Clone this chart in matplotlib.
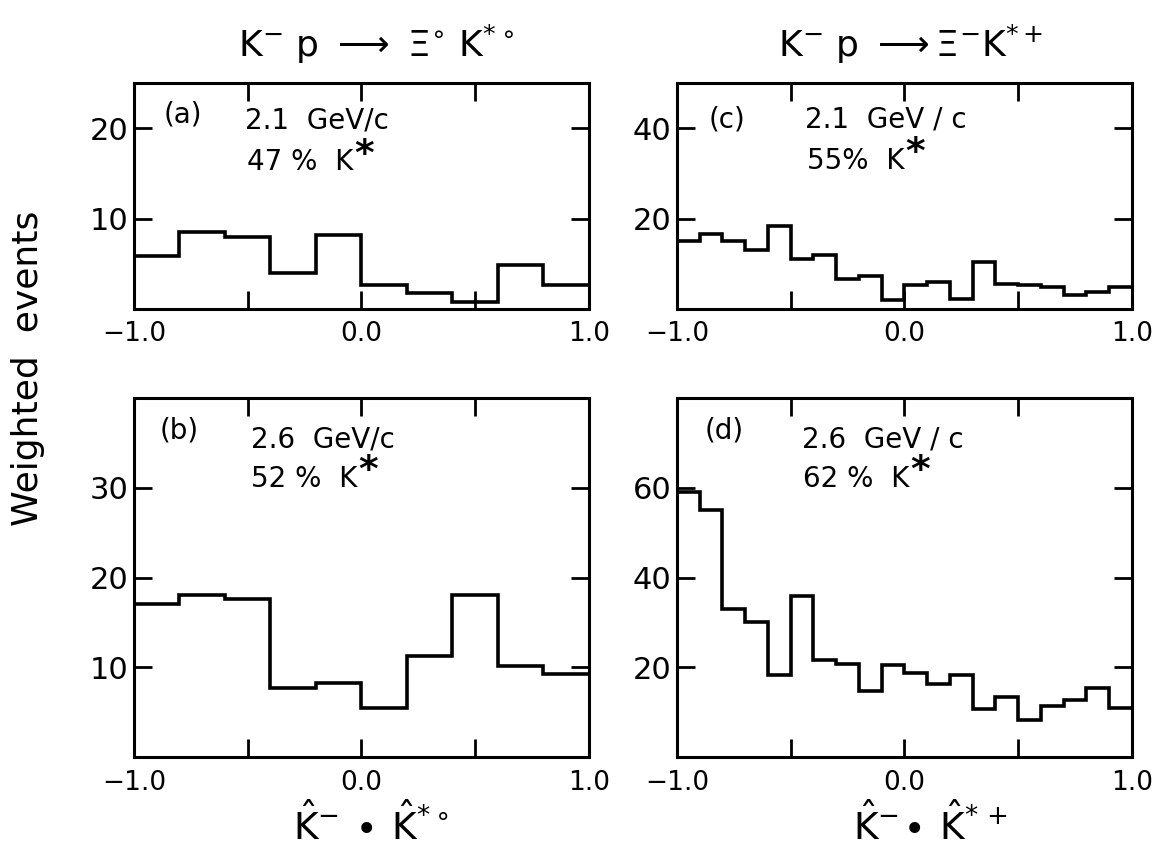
import matplotlib
matplotlib.use('Agg')
import matplotlib.pyplot as plt
import numpy as np

plt.rcParams['font.family'] = ['DejaVu Sans']
plt.rcParams['mathtext.fontset'] = 'dejavusans'

# weighted events per bin
a_vals = [5.9, 8.5, 8.0, 4.0, 8.2, 2.7, 1.8, 0.8, 4.9, 2.7]
b_vals = [17.0, 18.0, 17.6, 7.7, 8.3, 5.5, 11.3, 18.0, 10.1, 9.2]
c_vals = [15.0, 16.5, 15.1, 13.0, 18.3, 11.0, 11.9, 6.6, 7.3, 2.0,
          5.3, 6.0, 2.2, 10.3, 5.6, 5.3, 4.8, 3.0, 3.8, 4.8]
d_vals = [59.0, 55.0, 33.0, 30.1, 18.2, 35.9, 21.6, 20.7, 14.8, 20.4,
          18.7, 16.2, 18.3, 10.7, 13.3, 8.3, 11.3, 12.7, 15.3, 10.9]

xticks = [-1.0, -0.5, 0.0, 0.5, 1.0]
xticklabels = ['\u22121.0', '', '0.0', '', '1.0']

panels = [
    # letter, values, ylim, yticks, momentum, fraction, rect
    ('(a)', a_vals, 25, [10, 20], '2.1  GeV/c', '47 %  K', [0.1155, 0.6386, 0.3922, 0.2643]),
    ('(b)', b_vals, 40, [10, 20, 30], '2.6  GeV/c', '52 %  K', [0.1155, 0.1146, 0.3922, 0.4199]),
    ('(c)', c_vals, 50, [20, 40], '2.1  GeV / c', '55%  K', [0.5836, 0.6386, 0.3922, 0.2643]),
    ('(d)', d_vals, 80, [20, 40, 60], '2.6  GeV / c', '62 %  K', [0.5836, 0.1146, 0.3922, 0.4199]),
]
text_pos = {
    '(a)': (0.066, 0.859, 0.244, 0.834, 0.248, 0.649),
    '(b)': (0.056, 0.91, 0.258, 0.885, 0.258, 0.775),
    '(c)': (0.069, 0.84, 0.282, 0.84, 0.286, 0.654),
    '(d)': (0.061, 0.91, 0.275, 0.885, 0.277, 0.775),
}

fig = plt.figure(figsize=(11.6, 8.55), dpi=100)

for letter, vals, ytop, yticks, mom, frac, rect in panels:
    ax = fig.add_axes(rect)
    edges = np.linspace(-1, 1, len(vals) + 1)
    ax.stairs(vals, edges, baseline=None, color='black', linewidth=2.6)
    ax.set_xlim(-1, 1)
    ax.set_ylim(0, ytop)
    ax.set_xticks(xticks)
    ax.set_xticklabels(xticklabels)
    ax.set_yticks(yticks)
    ax.tick_params(direction='in', top=True, right=True, length=13, width=2)
    ax.tick_params(axis='x', labelsize=19, pad=9)
    ax.tick_params(axis='y', labelsize=22, pad=4)
    for s in ax.spines.values():
        s.set_linewidth(2.2)
    lx, ly, mx, my, fx, fy = text_pos[letter]
    ax.text(lx, ly, letter, transform=ax.transAxes, fontsize=20, va='center')
    ax.text(mx, my, mom, transform=ax.transAxes, fontsize=20, va='center')
    t = ax.text(fx, fy, frac, transform=ax.transAxes, fontsize=20, va='center')
    # big bold star raised after the K
    ax.annotate('*', xy=(1, 0), xycoords=t, xytext=(0.5, 8.5),
                textcoords='offset points', fontsize=27, fontweight='bold',
                ha='left', va='baseline')

fig.text(0.324, 0.948, r'K$^{-}$ p $\longrightarrow$ $\Xi^{\circ}$ K$^{*\circ}$',
         fontsize=26, ha='center', va='center')
fig.text(0.785, 0.948, r'K$^{-}$ p $\longrightarrow$$\Xi^{-}$K$^{*+}$',
         fontsize=26, ha='center', va='center')
fig.text(0.024, 0.569, 'Weighted  events', rotation=90, fontsize=26,
         ha='center', va='center')
fig.text(0.320, 0.008, r'$\hat{\mathrm{K}}^{-}\,\bullet\,\hat{\mathrm{K}}^{*\circ}$', fontsize=27,
         ha='center', va='bottom')
fig.text(0.802, 0.008, r'$\hat{\mathrm{K}}^{-}\!\bullet\,\hat{\mathrm{K}}^{*\,+}$', fontsize=27,
         ha='center', va='bottom')

fig.savefig('out.png', dpi=100)
